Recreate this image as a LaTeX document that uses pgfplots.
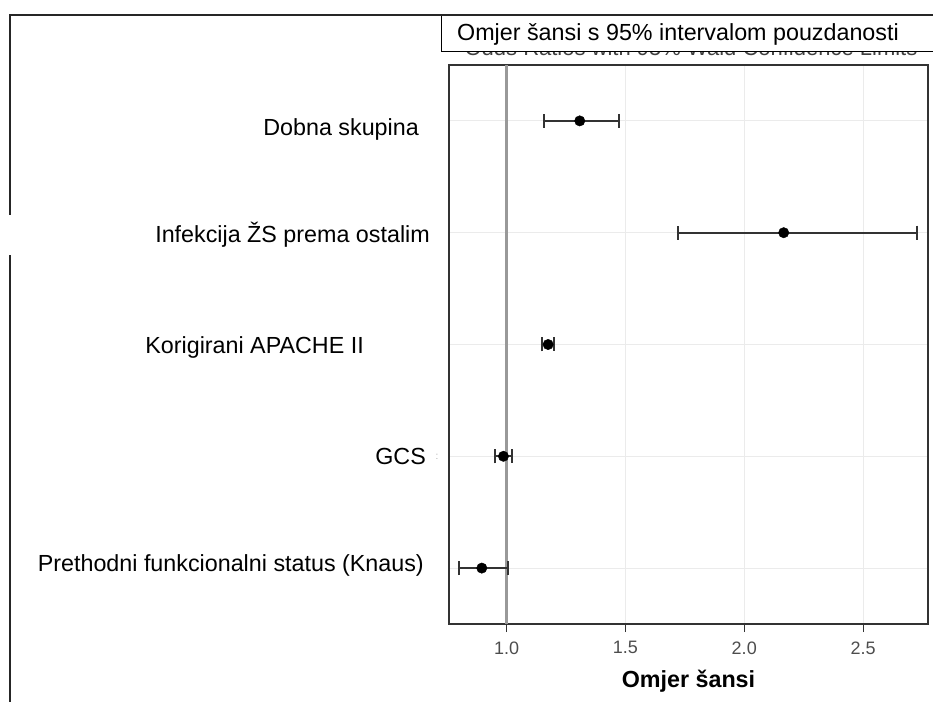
\documentclass[border=0pt]{standalone}
\usepackage{fontspec}
\setmainfont{Liberation Sans}
\usepackage{pgfplots}
\pgfplotsset{compat=1.18}
\usepackage{pgfplotstable}
\definecolor{gridc}{HTML}{EBEBEB}
\definecolor{tickc}{HTML}{4D4D4D}
\definecolor{framec}{HTML}{333333}
\definecolor{refc}{HTML}{999999}
\pgfplotstableread{
pos or em ep
5 1.308 0.149 0.166
4 2.166 0.446 0.561
3 1.175 0.024 0.025
2 0.987 0.035 0.034
1 0.896 0.094 0.112
}\ortable
\newcommand{\bigfont}{\fontsize{23.3bp}{27bp}\selectfont}
\begin{document}
\begin{tikzpicture}
\useasboundingbox (0,0) rectangle (933bp,702bp);
\begin{axis}[
  at={(449bp,78bp)}, anchor=south west, scale only axis,
  width=479bp, height=559bp,
  xmin=0.758, xmax=2.773, ymin=0.5, ymax=5.5,
  xtick={1,1.5,2,2.5}, xticklabels={1.0,1.5,2.0,2.5},
  ytick={1,2,3,4,5}, yticklabels={},
  xmajorgrids, ymajorgrids, grid style={gridc, line width=1bp},
  axis line style={framec, line width=1.3bp},
  xtick pos=left,
  tick align=outside,
  major tick length=8bp,
  x tick style={framec, line width=1bp},
  y tick style={draw=none},
  xticklabel style={font=\fontsize{18bp}{21bp}\selectfont, text=tickc, yshift=-6bp},
  xlabel={\textbf{Omjer šansi}},
  xlabel style={font=\bigfont, yshift=-9bp},
]
\addplot[draw=refc, line width=2.2bp, forget plot] coordinates {(1,0.5) (1,5.5)};
\addplot[only marks, mark=*, mark size=5.2bp, black,
  error bars/.cd, x dir=both, x explicit,
  error bar style={framec, line width=2bp},
  error mark options={rotate=90, framec, line width=2bp, mark size=7bp}]
  table[x=or, y=pos, x error plus=ep, x error minus=em]{\ortable};
\end{axis}
% overlay frame
\draw[black!85, line width=2bp] (10bp,0bp) -- (10bp,447bp);
\draw[black!85, line width=2bp] (10bp,487bp) -- (10bp,687bp) -- (940bp,687bp);
% hidden original title
\node[anchor=base, inner sep=0, text=black!75, font=\fontsize{22bp}{26bp}\selectfont] at (691bp,646bp) {Odds Ratios with 95\% Wald Confidence Limits};
% title box
\filldraw[fill=white, draw=black, line width=1bp] (441bp,650bp) rectangle (945bp,687bp);
\draw[black!85, line width=2bp] (441bp,687bp) -- (940bp,687bp);
\node[anchor=base west, inner sep=0, font=\bigfont] at (457bp,661bp) {Omjer šansi s 95\% intervalom pouzdanosti};
% category labels
\node[anchor=base east, inner sep=0, font=\bigfont] at (419bp,566bp) {Dobna skupina};
\node[anchor=base east, inner sep=0, font=\bigfont] at (430bp,459bp) {Infekcija ŽS prema ostalim};
\node[anchor=base east, inner sep=0, font=\bigfont] at (364bp,348bp) {Korigirani APACHE II};
\node[anchor=base east, inner sep=0, font=\bigfont] at (426bp,237bp) {GCS};
\node[anchor=base east, inner sep=0, font=\bigfont] at (424bp,130bp) {Prethodni funkcionalni status (Knaus)};
\node[anchor=center, inner sep=0, text=black!30, font=\fontsize{10bp}{12bp}\selectfont] at (437bp,245bp) {:};
\end{tikzpicture}
\end{document}
